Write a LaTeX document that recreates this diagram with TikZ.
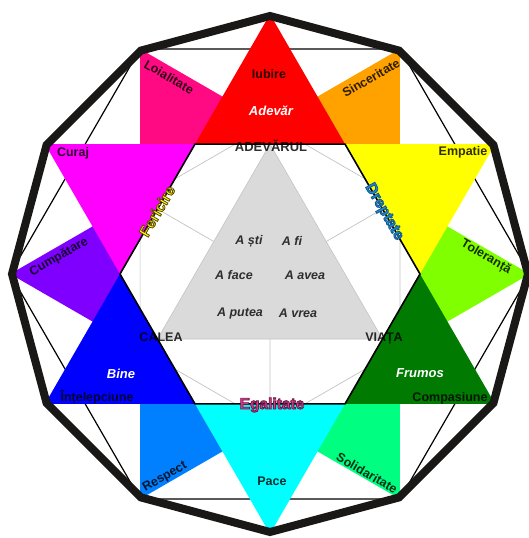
\documentclass[tikz,border=0pt]{standalone}
\usepackage{fontspec}
\setmainfont{Liberation Sans}
\definecolor{cRed}{HTML}{FF0000}
\definecolor{cYellow}{HTML}{FFFF00}
\definecolor{cBlue}{HTML}{0000FF}
\definecolor{cMag}{HTML}{FF00FF}
\definecolor{cCyan}{HTML}{00FFFF}
\definecolor{cOrange}{HTML}{FFA200}
\definecolor{cPink}{HTML}{FF0A82}
\definecolor{cPurple}{HTML}{8000FF}
\definecolor{cAzure}{HTML}{0080FF}
\definecolor{cSpring}{HTML}{00FF80}
\definecolor{cChart}{HTML}{80FF00}
\definecolor{cDkGreen}{HTML}{007A00}
\definecolor{cGrayTri}{HTML}{DADADA}
\definecolor{cGrayLine}{HTML}{C4C4C4}
\definecolor{cOuter}{HTML}{1A1717}
\definecolor{cDrept}{HTML}{2A8AD0}
\definecolor{cEgal}{HTML}{DC3A8E}
\newcommand{\outltext}[2]{\special{pdf:literal direct 2 Tr 0.8 w #1 RG}#2\special{pdf:literal direct 0 Tr}}
\begin{document}
\begin{tikzpicture}[x=1pt,y=-1pt,
  lbl/.style={font=\fontsize{12.5}{14}\selectfont\bfseries, inner sep=0pt, text=black, text opacity=0.82},
  wlbl/.style={font=\fontsize{13}{14}\selectfont\bfseries\itshape, inner sep=0pt, text=white},
  glbl/.style={font=\fontsize{12.5}{14}\selectfont\bfseries\itshape, inner sep=0pt, text=black!82},
  olbl/.style={font=\fontsize{15.5}{17}\selectfont\bfseries, inner sep=0pt}]
\useasboundingbox (0,0) rectangle (529,538);
\fill[white] (0,0) rectangle (529,538);
% center hexagon vertices
\coordinate (C) at (270,274);
\coordinate (H0) at (420,274);
\coordinate (H60) at (345,144.1);
\coordinate (H120) at (195,144.1);
\coordinate (H180) at (120,274);
\coordinate (H240) at (195,403.9);
\coordinate (H300) at (345,403.9);
% star points
\coordinate (S90) at (270,14.2);
\coordinate (S30) at (495,144.1);
\coordinate (S330) at (495,403.9);
\coordinate (S270) at (270,533.8);
\coordinate (S210) at (45,403.9);
\coordinate (S150) at (45,144.1);
% inner vertices of secondary triangles
\coordinate (G30) at (399.9,199);
\coordinate (G90) at (270,124);
\coordinate (G150) at (140.1,199);
\coordinate (G210) at (140.1,349);
\coordinate (G270) at (270,424);
\coordinate (G330) at (399.9,349);
% outer vertices of secondary triangles
\coordinate (O0) at (529.8,274);
\coordinate (O60) at (399.9,49);
\coordinate (O120) at (140.1,49);
\coordinate (O180) at (10.2,274);
\coordinate (O240) at (140.1,499);
\coordinate (O300) at (399.9,499);
% gray triangle and edge midpoints
\coordinate (T1) at (270,144.1);
\coordinate (T2) at (157.5,339);
\coordinate (T3) at (382.5,339);
\coordinate (M150) at (157.5,209);
\coordinate (M30) at (382.5,209);
\coordinate (M270) at (270,403.9);
% thin hexagon
\draw[black, line width=1.2pt] (O0)--(O60)--(O120)--(O180)--(O240)--(O300)--cycle;
% secondary triangles
\fill[cOrange] (O60)--(G30)--(G90)--cycle;
\fill[cPink] (O120)--(G90)--(G150)--cycle;
\fill[cPurple] (O180)--(G150)--(G210)--cycle;
\fill[cAzure] (O240)--(G210)--(G270)--cycle;
\fill[cSpring] (O300)--(G270)--(G330)--cycle;
\fill[cChart] (O0)--(G330)--(G30)--cycle;
% star points
\fill[cRed] (H120)--(H60)--(S90)--cycle;
\fill[cYellow] (H60)--(H0)--(S30)--cycle;
\fill[cDkGreen] (H0)--(H300)--(S330)--cycle;
\fill[cCyan] (H300)--(H240)--(S270)--cycle;
\fill[cBlue] (H240)--(H180)--(S210)--cycle;
\fill[cMag] (H180)--(H120)--(S150)--cycle;
% center hexagon
\fill[white] (H0)--(H60)--(H120)--(H180)--(H240)--(H300)--cycle;
\begin{scope}
\clip (H0)--(H60)--(H120)--(H180)--(H240)--(H300)--cycle;
\draw[cGrayLine, line width=0.7pt] (G30)--(G90)--(G150)--(G210)--(G270)--(G330)--cycle;
\draw[cGrayLine, line width=0.7pt] (M150)--(C) (M30)--(C) (M270)--(C);
\end{scope}
\filldraw[fill=cGrayTri, draw=cGrayLine, line width=0.6pt] (T1)--(T2)--(T3)--cycle;
\draw[black, line width=1.6pt, line join=miter] (H0)--(H60)--(H120)--(H180)--(H240)--(H300)--cycle;
% outer dodecagon
\begin{scope}[shift={(270,274)}]
\draw[cOuter, line width=8pt, line join=miter] (0:258) -- (30:258) -- (60:258) -- (90:258) -- (120:258) -- (150:258) -- (180:258) -- (210:258) -- (240:258) -- (270:258) -- (300:258) -- (330:258) -- cycle;
\end{scope}
% labels
\node[lbl] (iubire) at (269,74) {Iubire};
\node[wlbl] (adevar) at (271,111) {Adevăr};
\node[lbl, font=\fontsize{13}{14}\selectfont\bfseries] (adevarul) at (271,146) {ADEVĂRUL};
\node[lbl, rotate=-30] (loial) at (169,77) {Loialitate};
\node[lbl, rotate=30] (sincer) at (371,78) {Sinceritate};
\node[lbl] (curaj) at (73,153) {Curaj};
\node[lbl] (empatie) at (463,152) {Empatie};
\node[olbl, rotate=60, text=cYellow] (fericire) at (157,211) {\outltext{0.35 0.29 0}{Fericire}};
\node[olbl, rotate=-60, text=cDrept] (dreptate) at (384,212) {\outltext{0.06 0.35 0.56}{Dreptate}};
\node[lbl, rotate=30] (cumpatare) at (59,257) {Cumpătare};
\node[lbl, rotate=-30] (toleranta) at (486,257) {Toleranță};
\node[lbl] (calea) at (161,337) {CALEA};
\node[lbl] (viata) at (384,339) {VIAȚA};
\node[wlbl] (bine) at (121,374) {Bine};
\node[lbl] (intelep) at (97,397) {Înțelepciune};
\node[wlbl] (frumos) at (420,373) {Frumos};
\node[lbl] (compas) at (450,398) {Compasiune};
\node[olbl, text=cEgal] (egal) at (272,405) {\outltext{0.43 0.1 0.27}{Egalitate}};
\node[lbl, rotate=30] (respect) at (165,477) {Respect};
\node[lbl] (pace) at (272,481) {Pace};
\node[lbl, rotate=-30] (solid) at (367,473) {Solidaritate};
\node[glbl] (asti) at (249,241) {A ști};
\node[glbl] (afi) at (292,241) {A fi};
\node[glbl] (aface) at (234,275) {A face};
\node[glbl] (aavea) at (305,275) {A avea};
\node[glbl] (aputea) at (240,313) {A putea};
\node[glbl] (avrea) at (298,313) {A vrea};
\end{tikzpicture}
\end{document}
